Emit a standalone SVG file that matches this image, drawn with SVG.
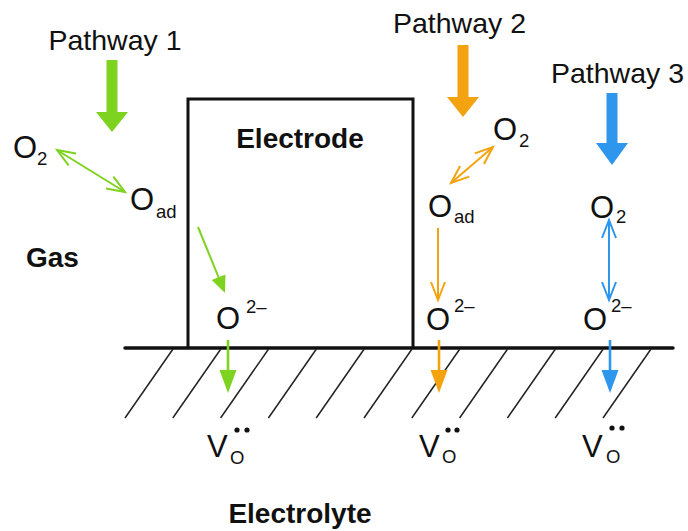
<svg xmlns="http://www.w3.org/2000/svg" width="688" height="531" viewBox="0 0 688 531">
<style>
text{font-family:"Liberation Sans",Arial,sans-serif;fill:#111}
.lab{font-size:28.5px}
.big{font-size:31px}
.sm{font-size:18.5px}
.bold{font-weight:bold;font-size:28px}
.hatch{stroke:#222;stroke-width:1.5;fill:none}
.g{stroke:#7ed321}
.o{stroke:#f2a30f}
.b{stroke:#2f96ee}
.thin{stroke-width:2;fill:none}
.thick{stroke-width:2.6;fill:none}
</style>
<defs>
<marker id="openG" markerUnits="userSpaceOnUse" markerWidth="30" markerHeight="30" refX="0" refY="0" orient="auto-start-reverse" overflow="visible"><path d="M-18,-7 L0,0 L-18,7" fill="none" stroke="#7ed321" stroke-width="2"/></marker>
<marker id="openO" markerUnits="userSpaceOnUse" markerWidth="30" markerHeight="30" refX="0" refY="0" orient="auto-start-reverse" overflow="visible"><path d="M-18,-7 L0,0 L-18,7" fill="none" stroke="#f2a30f" stroke-width="2"/></marker>
<marker id="openB" markerUnits="userSpaceOnUse" markerWidth="30" markerHeight="30" refX="0" refY="0" orient="auto-start-reverse" overflow="visible"><path d="M-18,-7 L0,0 L-18,7" fill="none" stroke="#2f96ee" stroke-width="2"/></marker>
<marker id="fillG" markerUnits="userSpaceOnUse" markerWidth="30" markerHeight="30" refX="0" refY="0" orient="auto" overflow="visible"><path d="M-13,-8.5 L10,0 L-13,8.5 Z" fill="#7ed321"/></marker>
<marker id="fillGs" markerUnits="userSpaceOnUse" markerWidth="30" markerHeight="30" refX="0" refY="0" orient="auto" overflow="visible"><path d="M-7,-7.5 L10,0 L-7,7.5 Z" fill="#7ed321"/></marker>
<marker id="fillO" markerUnits="userSpaceOnUse" markerWidth="30" markerHeight="30" refX="0" refY="0" orient="auto" overflow="visible"><path d="M-13,-8.5 L10,0 L-13,8.5 Z" fill="#f2a30f"/></marker>
<marker id="fillB" markerUnits="userSpaceOnUse" markerWidth="30" markerHeight="30" refX="0" refY="0" orient="auto" overflow="visible"><path d="M-13,-8.5 L10,0 L-13,8.5 Z" fill="#2f96ee"/></marker>
</defs>
<rect width="688" height="531" fill="#fff"/>

<g id="electrolyte">
<line x1="125" y1="348" x2="673" y2="348" stroke="#111" stroke-width="3.5" stroke-linecap="round"/>
<g class="hatch">
<line x1="173" y1="349" x2="125" y2="418"/>
<line x1="220.8" y1="349" x2="172.8" y2="418"/>
<line x1="268.6" y1="349" x2="220.6" y2="418"/>
<line x1="316.4" y1="349" x2="268.4" y2="418"/>
<line x1="364.2" y1="349" x2="316.2" y2="418"/>
<line x1="412" y1="349" x2="364" y2="418"/>
<line x1="459.8" y1="349" x2="411.8" y2="418"/>
<line x1="507.6" y1="349" x2="459.6" y2="418"/>
<line x1="555.4" y1="349" x2="507.4" y2="418"/>
<line x1="603.2" y1="349" x2="555.2" y2="418"/>
<line x1="651" y1="349" x2="603" y2="418"/>
</g>
<text class="bold" x="300" y="523" text-anchor="middle">Electrolyte</text>
</g>

<g id="electrode">
<path d="M188,348 V99 H413 V348" fill="none" stroke="#111" stroke-width="3"/>
<text class="bold" x="300" y="148" text-anchor="middle">Electrode</text>
</g>

<g id="gas"><text class="bold" x="26" y="267">Gas</text></g>

<g id="pathway1">
<text class="lab" x="115" y="50" text-anchor="middle">Pathway 1</text>
<polygon points="106.5,60 117.5,60 117.5,112 128,112 112,132 96,112 106.5,112" fill="#7ed321"/>
</g>
<g id="pathway2">
<text class="lab" x="459.5" y="33" text-anchor="middle">Pathway 2</text>
<polygon points="457.5,45 468.5,45 468.5,97 479,97 463,117 447,97 457.5,97" fill="#f2a30f"/>
</g>
<g id="pathway3">
<text class="lab" x="617.5" y="83" text-anchor="middle">Pathway 3</text>
<polygon points="606.5,93 617.5,93 617.5,143 628,143 612,165 596,143 606.5,143" fill="#2f96ee"/>
</g>

<g id="p1-o2"><text class="big" x="13" y="158">O</text><text class="sm" x="37" y="165">2</text></g>
<g id="p1-oad"><text class="big" x="130" y="210">O</text><text class="sm" x="156" y="218">ad</text></g>
<g id="p1-o2m"><text class="big" x="216" y="329">O</text><text class="sm" x="246" y="313">2–</text></g>
<g id="p1-vo"><text class="big" x="207" y="457">V</text><text class="sm" x="230" y="464">O</text><circle cx="237" cy="430" r="2.6" fill="#111"/><circle cx="247" cy="430" r="2.6" fill="#111"/></g>

<g id="p2-o2"><text class="big" x="493" y="140">O</text><text class="sm" x="519" y="147">2</text></g>
<g id="p2-oad"><text class="big" x="428" y="217">O</text><text class="sm" x="454" y="223">ad</text></g>
<g id="p2-o2m"><text class="big" x="426" y="330">O</text><text class="sm" x="454" y="312">2–</text></g>
<g id="p2-vo"><text class="big" x="419" y="457">V</text><text class="sm" x="442" y="463">O</text><circle cx="448" cy="430" r="2.6" fill="#111"/><circle cx="457" cy="430" r="2.6" fill="#111"/></g>

<g id="p3-o2"><text class="big" x="590" y="218">O</text><text class="sm" x="616" y="223">2</text></g>
<g id="p3-o2m"><text class="big" x="583" y="330">O</text><text class="sm" x="611" y="312">2–</text></g>
<g id="p3-vo"><text class="big" x="582" y="457">V</text><text class="sm" x="606" y="463">O</text><circle cx="612" cy="428" r="2.6" fill="#111"/><circle cx="622" cy="428" r="2.6" fill="#111"/></g>

<g id="connectors">
<line class="g thin" x1="57" y1="150" x2="125" y2="192" marker-start="url(#openG)" marker-end="url(#openG)"/>
<line class="g thin" x1="198" y1="227" x2="221.2" y2="283.7" marker-end="url(#fillGs)"/>
<line class="g thick" x1="228" y1="340" x2="228" y2="383" marker-end="url(#fillG)"/>
<line class="o thin" x1="451" y1="183" x2="493" y2="147" marker-start="url(#openO)" marker-end="url(#openO)"/>
<line class="o thin" x1="438" y1="228" x2="438" y2="300" marker-end="url(#openO)"/>
<line class="o thick" x1="439" y1="340" x2="439" y2="383" marker-end="url(#fillO)"/>
<line class="b thin" x1="609" y1="220" x2="609" y2="300" marker-start="url(#openB)" marker-end="url(#openB)"/>
<line class="b thick" x1="610" y1="340" x2="610" y2="383" marker-end="url(#fillB)"/>
</g>
</svg>
